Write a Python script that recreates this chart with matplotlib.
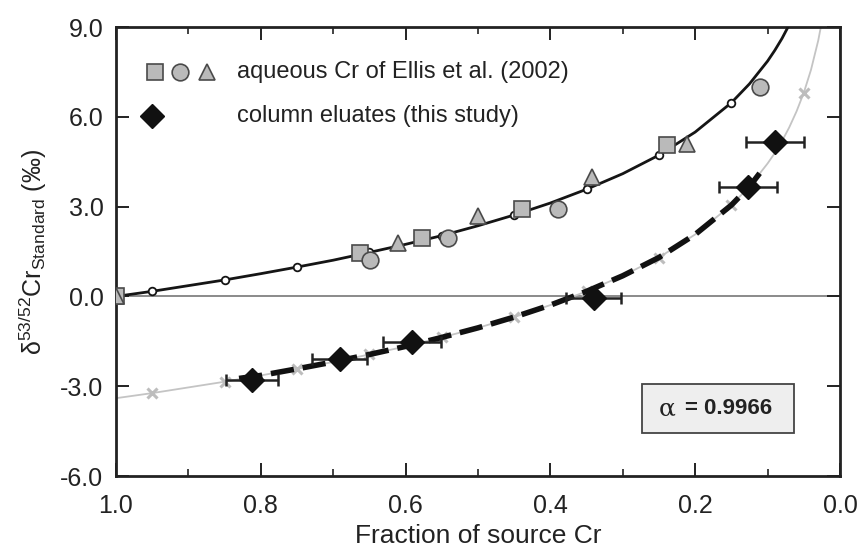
import matplotlib
matplotlib.use("Agg")
import matplotlib.pyplot as plt
from matplotlib.patches import Rectangle
from matplotlib import font_manager as fm

plt.rcParams['font.family'] = ['Liberation Sans', 'DejaVu Sans']
plt.rcParams['mathtext.fontset'] = 'custom'
plt.rcParams['mathtext.rm'] = 'Liberation Sans'
plt.rcParams['mathtext.it'] = 'Liberation Sans:italic'
plt.rcParams['mathtext.bf'] = 'Liberation Sans:bold'

# find regular-width Liberation Sans Bold
bold_fp = None
for f in fm.fontManager.ttflist:
    if f.name == 'Liberation Sans' and f.weight in (700, 'bold') and 'Narrow' not in f.fname \
            and f.style == 'normal':
        bold_fp = fm.FontProperties(fname=f.fname, size=16)
        break
if bold_fp is None:
    bold_fp = fm.FontProperties(family='DejaVu Sans', weight='bold', size=13)

# ---- data ----
# Ellis et al. (2002) aqueous Cr
sq_f = [1.0, 0.663, 0.577, 0.439, 0.239]
sq_d = [0.0, 1.45, 1.95, 2.93, 5.05]
ci_f = [0.649, 0.541, 0.389, 0.110]
ci_d = [1.21, 1.95, 2.93, 7.0]
tr_f = [1.0, 0.610, 0.500, 0.343, 0.211]
tr_d = [0.0, 1.80, 2.70, 4.00, 5.10]

# column eluates (this study)
col_f = [0.812, 0.691, 0.591, 0.340, 0.127, 0.090]
col_d = [-2.78, -2.10, -1.52, -0.05, 3.65, 5.16]
col_ferr = [0.036, 0.038, 0.040, 0.038, 0.040, 0.040]

# upper (reactant) curve
up_f = [1.0, 0.95, 0.9, 0.85, 0.8, 0.75, 0.7, 0.65, 0.6, 0.55, 0.5, 0.45,
        0.4, 0.35, 0.3, 0.25, 0.2, 0.15, 0.125, 0.1, 0.09, 0.08, 0.07]
up_d = [0.0, 0.17, 0.36, 0.55, 0.76, 0.98, 1.21, 1.47, 1.74, 2.03, 2.36, 2.72,
        3.12, 3.58, 4.10, 4.72, 5.49, 6.47, 7.10, 7.86, 8.22, 8.62, 9.08]
# small open circles on upper curve
upm_f = [0.95, 0.85, 0.75, 0.65, 0.55, 0.45, 0.35, 0.25, 0.15]
upm_d = [0.17, 0.55, 0.98, 1.47, 2.03, 2.72, 3.58, 4.72, 6.47]

# lower (grey) curve
lo_f = [1.0, 0.95, 0.9, 0.85, 0.8, 0.75, 0.7, 0.65, 0.6, 0.55, 0.5, 0.45,
        0.4, 0.35, 0.3, 0.25, 0.2, 0.15, 0.125, 0.1, 0.09, 0.08, 0.07, 0.06,
        0.05, 0.04, 0.03, 0.025]
lo_d = [-3.40, -3.23, -3.04, -2.85, -2.64, -2.42, -2.19, -1.94, -1.67, -1.37,
        -1.05, -0.69, -0.29, 0.17, 0.69, 1.30, 2.07, 3.05, 3.67, 4.44, 4.79,
        5.19, 5.65, 6.18, 6.80, 7.57, 8.55, 9.18]
lom_f = [0.95, 0.85, 0.75, 0.65, 0.55, 0.45, 0.35, 0.25, 0.15, 0.05]
lom_d = [-3.23, -2.85, -2.42, -1.94, -1.37, -0.69, 0.17, 1.30, 3.05, 6.80]

# dashed fit through column data
da_f = [0.83, 0.8, 0.75, 0.7, 0.65, 0.6, 0.55, 0.5, 0.45, 0.4, 0.35, 0.3,
        0.25, 0.2, 0.15, 0.125, 0.105]
da_d = [-2.74, -2.64, -2.42, -2.19, -1.94, -1.67, -1.37, -1.05, -0.69, -0.29,
        0.17, 0.69, 1.30, 2.07, 3.05, 3.67, 4.30]

x_ticks = [1.0, 0.8, 0.6, 0.4, 0.2, 0.0]
y_ticks = [-6.0, -3.0, 0.0, 3.0, 6.0, 9.0]

alpha_label = "0.9966"

# ---- figure ----
fig = plt.figure(figsize=(8.63, 5.5), dpi=100)
ax = fig.add_axes([0.1344, 0.1345, 0.8389, 0.8164])

grey_fill = '#bababa'
grey_edge = '#4a4a4a'
ink = '#222222'

ax.axhline(0, color='#8a8a8a', lw=1.4, zorder=1)

ax.plot(lo_f, lo_d, color='#c4c4c4', lw=1.3, zorder=2)
ax.plot(lom_f, lom_d, ls='none', marker='x', ms=7, mew=2.2, color='#bdbdbd', zorder=3)
ax.plot(da_f, da_d, color='#111111', lw=4, ls=(0, (4.2, 1.6)), zorder=4,
        solid_capstyle='butt', dash_capstyle='butt')

ax.plot(up_f, up_d, color='#151515', lw=2, zorder=3)
ax.plot(upm_f, upm_d, ls='none', marker='o', ms=5.5, mfc='white', mec='#151515', mew=1.3, zorder=4)

ax.plot(sq_f, sq_d, ls='none', marker='s', ms=11, mfc=grey_fill, mec=grey_edge, mew=1.2, zorder=5)
ax.plot(ci_f, ci_d, ls='none', marker='o', ms=12, mfc=grey_fill, mec=grey_edge, mew=1.2, zorder=5)
ax.plot(tr_f, tr_d, ls='none', marker='^', ms=12, mfc=grey_fill, mec=grey_edge, mew=1.2, zorder=5)

ax.errorbar(col_f, col_d, xerr=col_ferr, fmt='D', ms=12, mfc='#111111', mec='#111111',
            ecolor='#222222', elinewidth=1.8, capsize=4.5, capthick=1.8, zorder=6)

# legend (drawn manually)
tr = ax.transAxes
ax.plot([0.054], [0.899], transform=tr, marker='s', ms=11, mfc=grey_fill, mec=grey_edge, mew=1.2, clip_on=False)
ax.plot([0.088], [0.899], transform=tr, marker='o', ms=12, mfc=grey_fill, mec=grey_edge, mew=1.2, clip_on=False)
ax.plot([0.126], [0.899], transform=tr, marker='^', ms=12, mfc=grey_fill, mec=grey_edge, mew=1.2, clip_on=False)
ax.plot([0.050], [0.801], transform=tr, marker='D', ms=12, mfc='#111111', mec='#111111', clip_on=False)
ax.text(0.167, 0.899, 'aqueous Cr of Ellis et al. (2002)', transform=tr, fontsize=17,
        va='center', ha='left', color=ink)
ax.text(0.167, 0.801, 'column eluates (this study)', transform=tr, fontsize=17,
        va='center', ha='left', color=ink)

# alpha box
ax.add_patch(Rectangle((0.727, 0.095), 0.209, 0.109, transform=tr, facecolor='#eeeeee',
                       edgecolor='#444444', lw=1.3, zorder=7))
ax.text(0.762, 0.150, 'α', transform=tr, fontsize=18, family='DejaVu Serif',
        va='center', ha='center', zorder=8, color=ink)
ax.text(0.786, 0.150, '= ' + alpha_label, transform=tr, fontproperties=bold_fp,
        va='center', ha='left', zorder=8, color=ink)

ax.set_xlim(1.0, 0.0)
ax.set_ylim(-6.0, 9.0)
ax.set_xticks(x_ticks)
ax.set_xticklabels([f'{v:.1f}' for v in x_ticks])
ax.set_xticks([0.9, 0.7, 0.5, 0.3, 0.1], minor=True)
ax.set_yticks(y_ticks)
ax.set_yticklabels([f'{v:.1f}' for v in y_ticks])

ax.tick_params(axis='both', which='major', direction='in', length=9.5, width=1.4,
               labelsize=18, top=True, right=True, colors=ink)
ax.tick_params(axis='both', which='minor', direction='in', length=5, width=1.2,
               top=True, right=True, colors=ink)
ax.tick_params(axis='x', which='major', pad=13)
ax.tick_params(axis='y', which='major', pad=9)
for s in ax.spines.values():
    s.set_linewidth(2)
    s.set_color(ink)

ax.set_xlabel('Fraction of source Cr', fontsize=19, color=ink, labelpad=4)
ax.set_ylabel('δ$^{53/52}$Cr$_{\\mathrm{Standard}}$ (‰)', fontsize=18, color=ink, labelpad=8)

fig.savefig('out.png', dpi=100)
